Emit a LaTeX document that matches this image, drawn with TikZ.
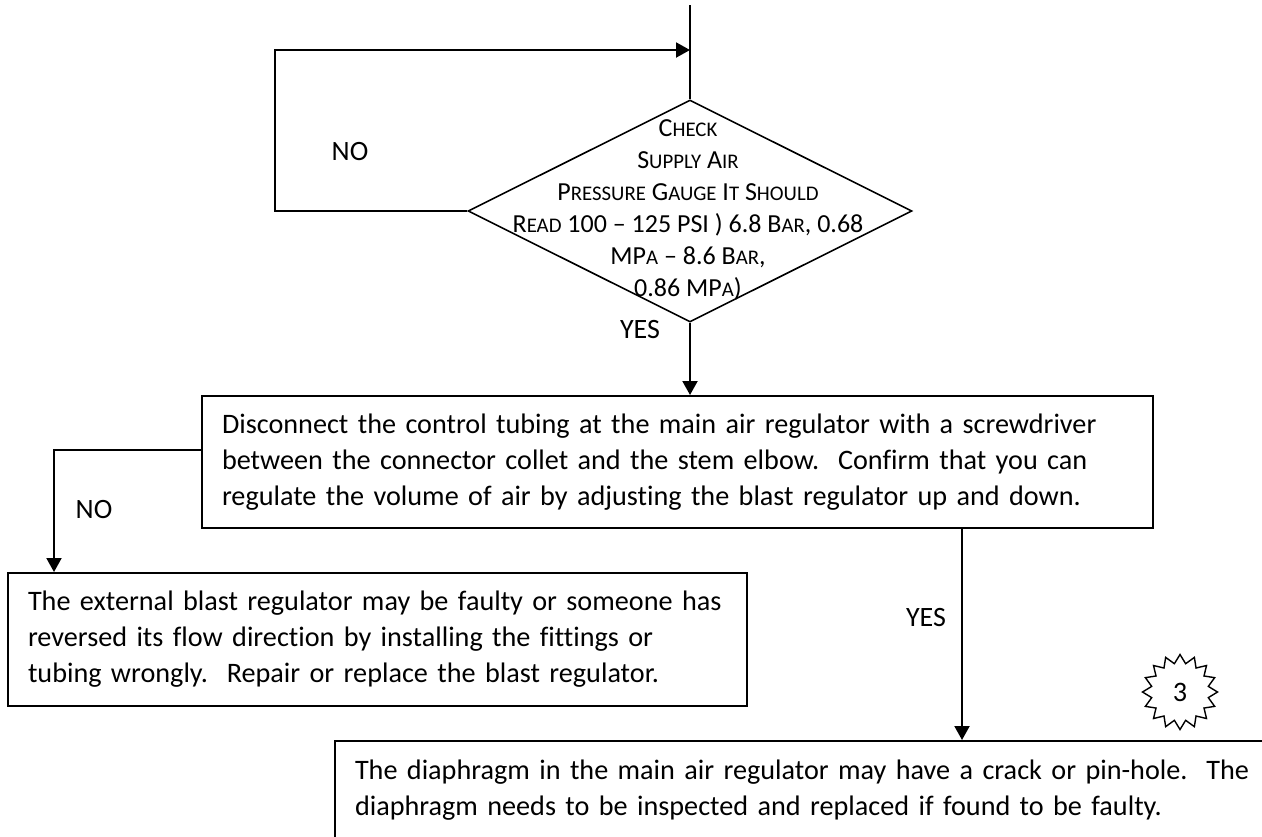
\documentclass[tikz,border=0pt]{standalone}
\usepackage{fontspec}
\setmainfont{Carlito}[Ligatures=NoCommon]
\usepackage{tikz}
\usetikzlibrary{arrows.meta, positioning, shapes.geometric}

\newcommand{\smcap}[1]{{\fontsize{10.4}{16}\selectfont #1}}
\frenchspacing

\begin{document}
\begin{tikzpicture}[x=0.5pt, y=-0.5pt,
    proc/.style={draw, line width=1pt, rectangle, anchor=north west, align=left,
        inner xsep=10pt, font=\fontsize{14.1}{18}\selectfont},
    decision/.style={draw, line width=0.8pt, diamond, inner sep=0pt,
        minimum width=222pt, minimum height=111pt},
    dectext/.style={align=center, inner sep=0pt, font=\fontsize{13}{16}\selectfont},
    lbl/.style={inner sep=0pt, font=\fontsize{14}{17}\selectfont},
    flow/.style={-{Triangle[width=7.5pt, length=7pt]}, line width=1pt},
    seal/.style={draw, line width=0.7pt, star, star points=16, star point ratio=1.3,
        minimum size=37.5pt, inner sep=0pt, font=\fontsize{14.1}{18}\selectfont}
]
\useasboundingbox (0,0) rectangle (1262,836);

% Decision
\node[decision] (dec) at (690,211) {};
\node[dectext] (dectxt) at (688,210) {C\smcap{HECK}\\
    S\smcap{UPPLY} A\smcap{IR}\\
    P\smcap{RESSURE} G\smcap{AUGE} I\smcap{T} S\smcap{HOULD}\\
    R\smcap{EAD} 100 -- 125 PSI ) 6.8 B\smcap{AR}, 0.68\\
    MP\smcap{A} -- 8.6 B\smcap{AR},\\
    0.86 MP\smcap{A})};

% Boxes
\node[proc, minimum width=475.5pt, minimum height=66pt, text width=455.5pt] (check) at (201,395)
    {Disconnect the control tubing at the main air regulator with a screwdriver\\
    between the connector collet and the stem elbow.~ Confirm that you can\\
    regulate the volume of air by adjusting the blast regulator up and down.};
\node[proc, minimum width=369.5pt, minimum height=66.5pt, text width=349.5pt] (blast) at (7,572)
    {The external blast regulator may be faulty or someone has\\
    reversed its flow direction by installing the fittings or\\
    tubing wrongly.~ Repair or replace the blast regulator.};
\node[proc, minimum width=473pt, minimum height=49pt, text width=453pt] (diaph) at (334,740)
    {The diaphragm in the main air regulator may have a crack or pin-hole.~ The\\
    diaphragm needs to be inspected and replaced if found to be faulty.};

% Page mark
\node[seal] (mark) at (1180,692) {3};

% Connectors
\coordinate (topin) at (690,5);
\coordinate (join) at (690,50);
\coordinate (loop) at (275,50);
\coordinate (nobend) at (54,450);
\coordinate (yesx) at (962,600);
\draw[line width=1pt] (topin) -- (dec.north);
\draw[flow] (dec.west) -| (loop) -- (join);
\draw[flow] (dec.south) -- (dec.south |- check.north);
\draw[flow] (check.west |- nobend) -- (nobend) -- (nobend |- blast.north);
\draw[flow] (check.south -| yesx) -- (yesx |- diaph.north);

% Labels
\node[lbl] (no1) at (350,152) {NO};
\node[lbl] (yes1) at (640,330) {YES};
\node[lbl] (no2) at (94,509) {NO};
\node[lbl] (yes2) at (926,617) {YES};
\end{tikzpicture}
\end{document}
